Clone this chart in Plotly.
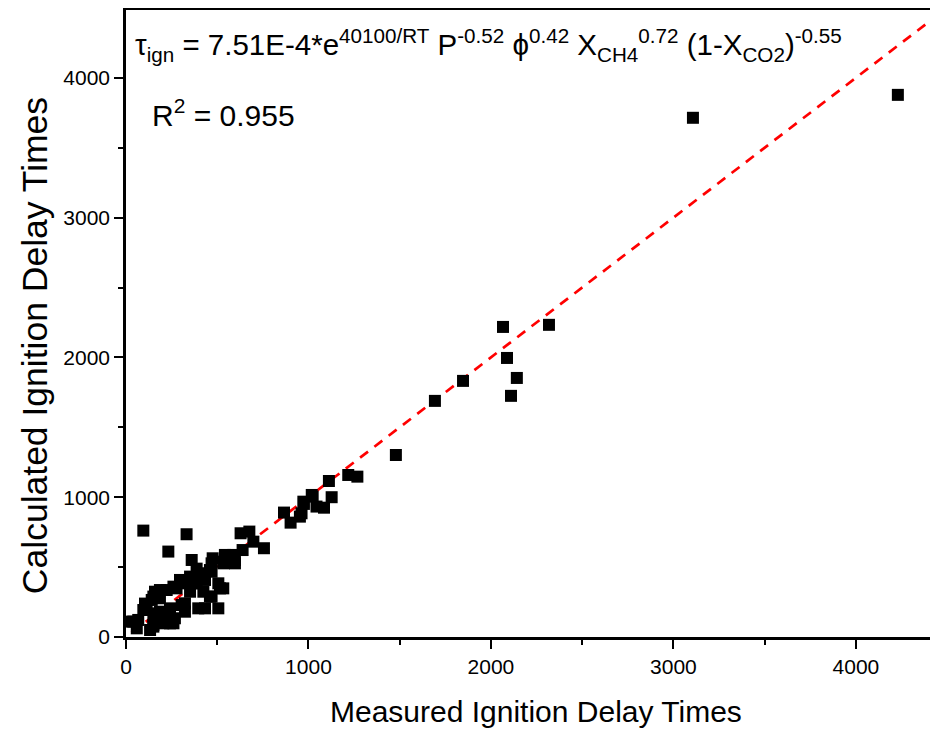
import plotly.graph_objects as go

# Measured vs calculated ignition delay times
measured = [4230, 3107, 2318, 2066, 2088, 2142, 2110, 1847, 1693, 1479,
            1268, 1218, 1112, 1127, 1085, 1023, 1018, 1044, 972, 962,
            953, 975, 866, 902,
            756, 698, 676, 628, 639, 588, 597, 597, 542, 533,
            537, 475, 469, 469, 460, 433, 433, 506, 533, 515,
            469, 460, 506, 433, 396, 360, 332, 232, 95, 405,
            387, 387, 378, 351, 332, 296, 277, 260, 223, 186,
            159, 351, 323, 305, 323, 424, 186, 150, 141, 104,
            113, 95, 168, 186, 223, 241, 268, 204, 241, 260,
            150, 150, 150, 132, 59, 67, 40, 31]
calculated = [3878, 3714, 2233, 2218, 1996, 1853, 1725, 1832, 1689, 1302,
              1147, 1159, 1116, 1000, 925, 1004, 1016, 933, 968, 885,
              861, 952, 890, 818,
              635, 682, 754, 742, 622, 587, 551, 527, 587, 539,
              527, 563, 527, 467, 479, 408, 432, 384, 348, 348,
              289, 289, 205, 205, 205, 551, 735, 611, 761, 456,
              489, 384, 384, 432, 384, 408, 348, 360, 336, 336,
              324, 324, 241, 229, 181, 324, 277, 289, 265, 239,
              217, 193, 169, 181, 146, 205, 134, 98, 98, 98,
              146, 86, 74, 50, 62, 122, 110, 110]

# y = x reference line extent
fit_range = [30, 4450]

x_ticks = [0, 1000, 2000, 3000, 4000]
y_ticks = [0, 1000, 2000, 3000, 4000]

x_title = "Measured Ignition Delay Times"
y_title = "Calculated Ignition Delay Times"

FONT = "Liberation Sans, Arial, sans-serif"

fig = go.Figure()
fig.add_trace(go.Scatter(x=fit_range, y=fit_range, mode="lines",
                         line=dict(color="#ff0000", width=2.7, dash="10px,8px"),
                         showlegend=False, hoverinfo="skip"))
fig.add_trace(go.Scatter(x=measured, y=calculated, mode="markers",
                         marker=dict(symbol="square", size=12, color="black",
                                     line=dict(width=0)),
                         showlegend=False))

# page body has an 8px margin, so the figure is 8px smaller and shifted
fig.update_layout(
    width=930, height=722,
    margin=dict(l=118, r=0, t=2, b=93, autoexpand=False),
    paper_bgcolor="white", plot_bgcolor="white",
    font=dict(family=FONT, color="black", size=21),
    xaxis=dict(range=[0, 4450], tickvals=x_ticks, ticktext=[str(v) for v in x_ticks],
               automargin=False,
               showgrid=False, zeroline=False, showline=True, linecolor="black",
               linewidth=2.5, mirror=True, ticks="outside", ticklen=9, tickwidth=2,
               tickcolor="black",
               minor=dict(dtick=500, ticks="outside", ticklen=5, tickwidth=2,
                          tickcolor="black", showgrid=False),
               tickfont=dict(family=FONT, size=21)),
    yaxis=dict(range=[0, 4485], tickvals=y_ticks, ticktext=[str(v) for v in y_ticks],
               automargin=False,
               showgrid=False, zeroline=False, showline=True, linecolor="black",
               linewidth=2.5, ticks="outside", ticklen=9, tickwidth=2,
               tickcolor="black",
               minor=dict(dtick=500, ticks="outside", ticklen=5, tickwidth=2,
                          tickcolor="black", showgrid=False),
               tickfont=dict(family=FONT, size=21)),
)

fig.add_annotation(
    xref="paper", yref="paper", x=0.505, y=-0.1196, xanchor="center", yanchor="middle",
    showarrow=False, font=dict(family=FONT, size=30, color="black"), text=x_title)
fig.add_annotation(
    xref="paper", yref="paper", x=-0.112, y=0.464, xanchor="center", yanchor="middle",
    textangle=-90, showarrow=False, font=dict(family=FONT, size=35.5, color="black"),
    text=y_title)

fig.add_annotation(
    xref="paper", yref="paper", x=0.009, y=0.944, xanchor="left", yanchor="middle",
    showarrow=False, font=dict(family=FONT, size=29.5, color="black"),
    text="τ<sub>ign</sub> = 7.51E-4*e<sup>40100/RT</sup> P<sup>-0.52</sup> "
         "ϕ<sup>0.42</sup> X<sub>CH4</sub><sup>0.72</sup> (1-X<sub>CO2</sub>)<sup>-0.55</sup>")
fig.add_annotation(
    xref="paper", yref="paper", x=0.0296, y=0.835, xanchor="left", yanchor="middle",
    showarrow=False, font=dict(family=FONT, size=30, color="black"),
    text="R<sup>2</sup> = 0.955")

fig.write_html("out.html")
